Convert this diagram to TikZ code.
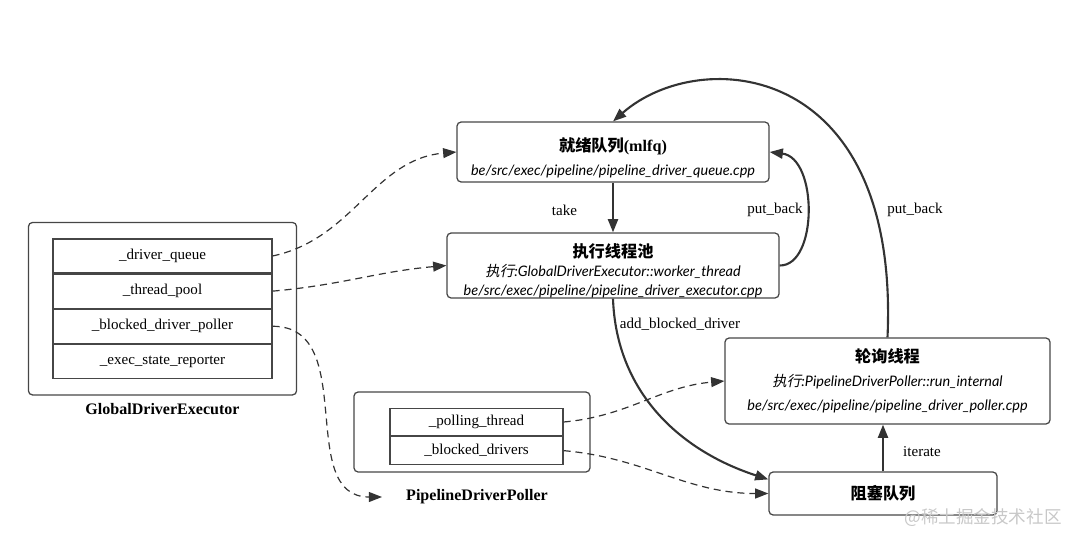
\documentclass[tikz,border=0pt]{standalone}
\usepackage{fontspec}
\setmainfont{Liberation Serif}
\newfontfamily\cjk{Noto Sans CJK SC}
\newfontfamily\cjksl{Noto Sans CJK SC}[FakeSlant=0.2]
\newfontfamily\pathfont{Lato}
\usetikzlibrary{arrows.meta,positioning,fit,calc}
\definecolor{linegray}{RGB}{51,51,51}
\definecolor{boxgray}{RGB}{70,70,70}
\definecolor{markgray}{RGB}{200,200,200}
\newcommand{\pth}[1]{{\pathfont\itshape\fontsize{10.3}{13}\selectfont #1}}
\newcommand{\ttl}[1]{{\cjk\bfseries\fontsize{11.5}{13}\selectfont #1}}

\begin{document}
\begin{tikzpicture}[x=0.025cm,y=-0.025cm,
    font=\fontsize{10.7}{13}\selectfont,
    >={Triangle[length=0.33cm,width=0.25cm]},
    box/.style={rectangle,draw=boxgray,line width=0.9pt,rounded corners=3pt,align=center,inner sep=0pt},
    cell/.style={rectangle,draw=boxgray,line width=0.8pt,minimum width=5.475cm,minimum height=0.85cm,inner sep=0pt},
    pcell/.style={cell,minimum width=4.325cm,minimum height=0.6875cm},
    flow/.style={->,draw=linegray,line width=1.5pt},
    ref/.style={->,draw=linegray,line width=0.85pt,dash pattern=on 5pt off 3.5pt}]
    \useasboundingbox (0,0) rectangle (1080,546);

    % Main boxes (right side)
    \node[box,minimum width=7.8cm,minimum height=1.5cm] (ready) at (613,152)
        {\ttl{\rule{0pt}{18pt}就绪队列}{\bfseries\fontsize{11.5}{13}\selectfont(mlfq)}\\[4pt]
         \pth{be/src/exec/pipeline/pipeline\_driver\_queue.cpp}};
    \node[box,minimum width=8.3cm,minimum height=1.625cm] (pool) at (613,265.5)
        {\ttl{\rule{0pt}{17pt}执行线程池}\\[1pt]
         \pth{{\cjksl 执行}:GlobalDriverExecutor::worker\_thread}\\
         \pth{be/src/exec/pipeline/pipeline\_driver\_executor.cpp}};
    \node[box,minimum width=8.125cm,minimum height=2.15cm] (poll) at (887.5,381)
        {\ttl{轮询线程}\\[4pt]
         \pth{{\cjksl 执行}:PipelineDriverPoller::run\_internal}\\[4pt]
         \pth{be/src/exec/pipeline/pipeline\_driver\_poller.cpp}};
    \node[box,minimum width=5.7cm,minimum height=1.075cm] (blocked) at (883,493.5)
        {\ttl{阻塞队列}};

    % GlobalDriverExecutor members
    \node[cell] (drvq) at (162.5,256) {\_driver\_queue};
    \node[cell,below=0pt of drvq] (tpool) {\_thread\_pool};
    \node[cell,below=0pt of tpool] (bdpoll) {\_blocked\_driver\_poller};
    \node[cell,below=0pt of bdpoll] (esrep) {\_exec\_state\_reporter};
    \node[box,fit=(drvq) (esrep),inner xsep=0.6cm,inner ysep=0.4cm] (gde) {};
    \node[below=0.08cm of gde,font=\bfseries\fontsize{11.4}{13}\selectfont] (gdelbl) {GlobalDriverExecutor};

    % PipelineDriverPoller members
    \node[pcell] (pollth) at (476.5,422) {\_polling\_thread};
    \node[pcell,below=0pt of pollth] (bdrv) {\_blocked\_drivers};
    \node[box,minimum width=5.9cm,minimum height=2cm] (pdp) at (472,432) {};
    \node[below=0.3cm of pdp,xshift=0.125cm,font=\bfseries\fontsize{11.4}{13}\selectfont] (pdplbl) {PipelineDriverPoller};
    \coordinate (pdpin) at (382,497);

    % Member references
    \draw[ref] (drvq.east) to[out=12,in=185] (ready.west);
    \draw[ref] (tpool.east) to[out=5,in=185] (pool.west);
    \draw[ref] (bdpoll.east) to[out=0,in=180,looseness=1.1] (pdpin);
    \draw[ref] (pollth.east) to[out=5,in=185] (poll.west);
    \draw[ref] (bdrv.east) to[out=-5,in=180] (blocked.west);

    % Driver flow
    \draw[flow] (ready.south) -- (pool.north);
    \draw[flow] (pool.east) .. controls (818,266) and (818,158) .. (ready.east);
    \draw[flow] (pool.south) to[out=-88,in=162] (blocked.173);
    \draw[flow] (blocked.north) -- (blocked.north |- poll.south);
    \draw[flow] (poll.north) .. controls (900,60) and (700,45) .. (ready.north);

    % Labels
    \node[anchor=east] (takelbl) at (582,210) {take};
    \node (pbsmall) at (775,210) {put\_back};
    \node (pbbig) at (915,210) {put\_back};
    \node (addlbl) at (680,324) {add\_blocked\_driver};
    \node (itlbl) at (922,452) {iterate};

    % Watermark
    \node[text=markgray,font=\cjk\fontsize{12.5}{14}\selectfont] (mark) at (983,518) {@稀土掘金技术社区};
\end{tikzpicture}
\end{document}
